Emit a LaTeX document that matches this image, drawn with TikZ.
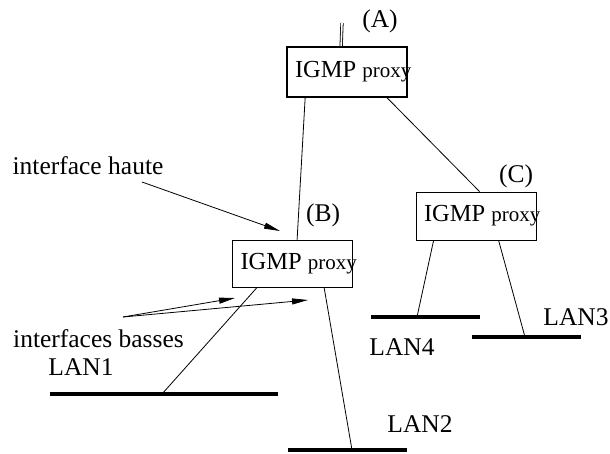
\documentclass[tikz,border=0pt]{standalone}
\usepackage{fontspec}
\setmainfont{Liberation Serif}
\usetikzlibrary{calc,positioning,arrows.meta}

\newcommand{\proxytext}{\makebox[104pt][l]{IGMP {\fontsize{21}{23}\selectfont proxy}}}

\begin{document}
\begin{tikzpicture}[
    x=1pt, y=-1pt,
    proxy/.style={rectangle, draw, line width=0.8pt, inner xsep=8pt, inner ysep=0pt, font=\fontsize{24.5}{26}\selectfont},
    label/.style={inner sep=0pt, font=\fontsize{25.5}{27}\selectfont},
    lan/.style={line width=3.6pt},
    link/.style={line width=0.8pt},
    arrow/.style={-{Triangle[length=16pt, width=6pt]}, line width=0.8pt}
]
    \useasboundingbox (0,0) rectangle (610,453);

    % Proxies
    \node[proxy, line width=1.7pt, minimum width=120pt, minimum height=50pt] (proxyA) at (347,72) {\proxytext};
    \node[proxy, minimum width=119pt, minimum height=47pt] (proxyB) at (292.5,263.5) {\proxytext};
    \node[proxy, minimum width=120pt, minimum height=48pt] (proxyC) at (476,216) {\proxytext};

    \node[label] (tagA) at (380,21) {(A)};
    \node[label] (tagB) at (323,215) {(B)};
    \node[label] (tagC) at (516,176) {(C)};

    % LANs
    \coordinate (lan1w) at (50,394);   \coordinate (lan1e) at (278,394);   \coordinate (lan1p) at (162,394);
    \coordinate (lan2w) at (288,450);  \coordinate (lan2e) at (407,450);   \coordinate (lan2p) at (352,450);
    \coordinate (lan3w) at (472,337);  \coordinate (lan3e) at (581,337);   \coordinate (lan3p) at (525,337);
    \coordinate (lan4w) at (371,317);  \coordinate (lan4e) at (480,317);   \coordinate (lan4p) at (417,317);
    \draw[lan] (lan1w) -- (lan1e);
    \draw[lan] (lan2w) -- (lan2e);
    \draw[lan] (lan3w) -- (lan3e);
    \draw[lan] (lan4w) -- (lan4e);

    \node[label] (nameLAN1) at (81,367) {LAN1};
    \node[label] (nameLAN2) at (420,424) {LAN2};
    \node[label] (nameLAN3) at (576,317) {LAN3};
    \node[label] (nameLAN4) at (402,347) {LAN4};

    % Links
    \coordinate (upA) at (342,23);
    \draw[double, double distance=1.6pt, line width=0.8pt] (upA) -- ($(proxyA.north west)+(55,0)$);
    \draw[link] ($(proxyA.south west)+(19,0)$) -- ($(proxyB.north west)+(65,0)$);
    \draw[link] ($(proxyA.south west)+(101,0)$) -- ($(proxyC.north west)+(64,0)$);
    \draw[link] ($(proxyB.south west)+(25,0)$) -- (lan1p);
    \draw[link] ($(proxyB.south west)+(92,0)$) -- (lan2p);
    \draw[link] ($(proxyC.south west)+(18,0)$) -- (lan4p);
    \draw[link] ($(proxyC.south west)+(83,0)$) -- (lan3p);

    % Interfaces
    \node[label] (haute) at (88,166) {interface haute};
    \node[label] (basses) at (98.5,339) {interfaces basses};
    \coordinate (hauteFrom) at (142,182);
    \coordinate (hauteTo) at (280,231);
    \coordinate (bassesFrom) at (123,317);
    \coordinate (bassesToB) at (235,298);
    \coordinate (bassesToA) at (308,300);
    \draw[arrow] (hauteFrom) -- (hauteTo);
    \draw[arrow] (bassesFrom) -- (bassesToB);
    \draw[arrow] (bassesFrom) -- (bassesToA);
\end{tikzpicture}
\end{document}
